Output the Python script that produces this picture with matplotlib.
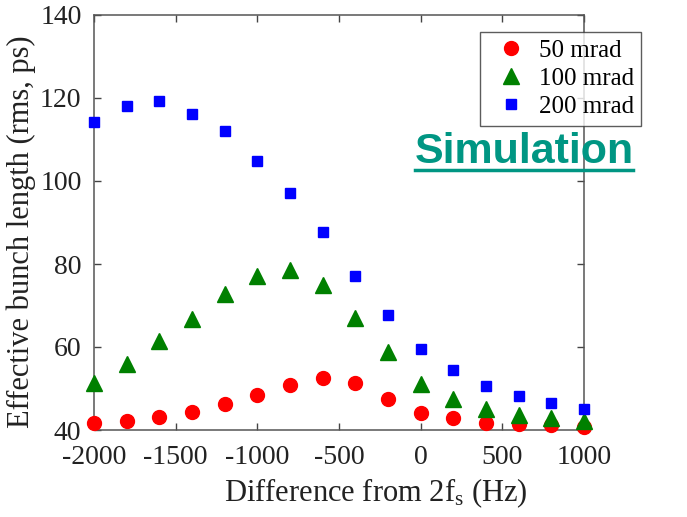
import matplotlib
matplotlib.use("Agg")
import matplotlib.pyplot as plt
from matplotlib.lines import Line2D

# Frequency offset from 2*fs (Hz)
freq = [-2000, -1800, -1600, -1400, -1200, -1000, -800, -600,
        -400, -200, 0, 200, 400, 600, 800, 1000]

# Effective bunch length (rms, ps) for each crossing angle
bl_50 = [41.6, 42.2, 43.1, 44.4, 46.3, 48.5, 50.9, 52.5,
         51.3, 47.5, 44.1, 42.8, 41.8, 41.4, 41.1, 40.8]
bl_100 = [51.4, 55.9, 61.4, 66.8, 72.7, 77.0, 78.5, 75.0,
          67.1, 58.7, 51.2, 47.4, 45.0, 43.6, 43.0, 42.2]
bl_200 = [114.3, 118.0, 119.2, 116.1, 112.1, 104.7, 97.1, 87.8,
          77.0, 67.6, 59.4, 54.4, 50.7, 48.1, 46.6, 45.0]

labels = ["50 mrad", "100 mrad", "200 mrad"]
xticks = [-2000, -1500, -1000, -500, 0, 500, 1000]
yticks = [40, 60, 80, 100, 120, 140]

serif = ["Liberation Serif", "DejaVu Serif"]
plt.rcParams["font.family"] = serif
plt.rcParams["axes.unicode_minus"] = False
plt.rcParams["mathtext.fontset"] = "custom"
plt.rcParams["mathtext.rm"] = "Liberation Serif"
plt.rcParams["mathtext.it"] = "Liberation Serif"

W, H = 687, 517
fig = plt.figure(figsize=(W / 100, H / 100), dpi=100)
ax = fig.add_axes([94 / W, 1 - 430 / H, (584 - 94) / W, (430 - 15) / H])

ax.plot(freq, bl_50, linestyle="none", marker="o", ms=10, color="#ff0000",
        markeredgecolor="#ff0000", clip_on=False, zorder=3)
ax.plot(freq, bl_100, linestyle="none", marker="^", ms=11, color="#008000",
        markeredgecolor="#008000", clip_on=False, zorder=4)
ax.plot(freq, bl_200, linestyle="none", marker="s", ms=7.8, color="#0000ff",
        markeredgecolor="#0000ff", clip_on=False, zorder=5)

ax.set_xlim(-2000, 1000)
ax.set_ylim(40, 140)
ax.set_xticks(xticks)
ax.set_yticks(yticks)
ax.tick_params(direction="in", length=5, width=1, color="#444444",
               labelsize=20, labelcolor="#222222", top=True, right=True)
ax.tick_params(axis="x", pad=11)
ax.tick_params(axis="y", pad=9)
for s in ax.spines.values():
    s.set_color("#555555")
    s.set_linewidth(1.1)

fig.text(376 / W, 1 - 501 / H, "Difference from 2f$_{\\rm s}$ (Hz)", fontsize=22,
         color="#222222", ha="center", va="baseline")
fig.text(21 / W, 1 - 232 / H, "Effective bunch length (rms, ps)", fontsize=22,
         color="#222222", ha="center", va="center", rotation=90)

handles = [
    Line2D([], [], linestyle="none", marker="o", ms=10, color="#ff0000"),
    Line2D([], [], linestyle="none", marker="^", ms=11, color="#008000"),
    Line2D([], [], linestyle="none", marker="s", ms=7, color="#0000ff"),
]
leg = fig.legend(handles, labels, loc="upper left",
                 bbox_to_anchor=(480 / W, 1 - 32 / H),
                 fontsize=18, frameon=True, fancybox=False,
                 edgecolor="#333333", borderpad=0.3, labelspacing=0.22,
                 handletextpad=0.2, handlelength=1.85, borderaxespad=0)
leg.get_frame().set_linewidth(1.0)

teal = "#009683"
fig.text(415 / W, 1 - 163 / H, "Simulation", fontsize=31, fontweight="bold",
         family=["Liberation Sans", "DejaVu Sans"], color=teal,
         ha="left", va="baseline")
fig.add_artist(Line2D([415 / W, 633 / W], [1 - 170 / H, 1 - 170 / H],
                      color=teal, linewidth=2.5, transform=fig.transFigure))

fig.savefig("out.png", dpi=100)
